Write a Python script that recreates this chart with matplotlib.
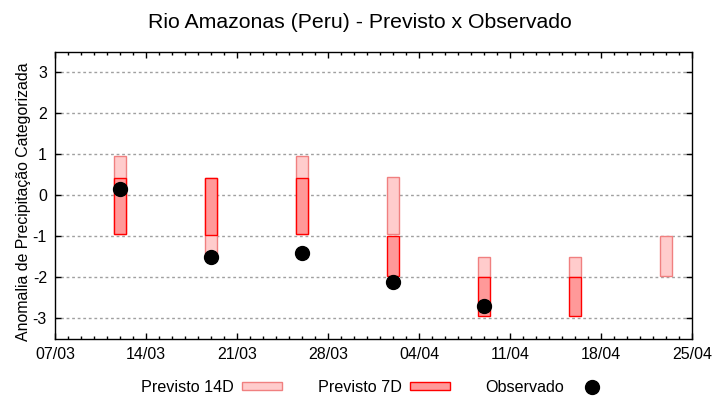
import numpy as np
import pandas as pd
import matplotlib
matplotlib.use('Agg')
import matplotlib.pyplot as plt
import matplotlib.dates as mdates
from matplotlib.patches import Rectangle
from matplotlib.lines import Line2D

plt.rcParams['font.family'] = ['Liberation Sans', 'DejaVu Sans']
plt.rcParams['axes.unicode_minus'] = False

# forecast weeks (center of each box)
datas = pd.to_datetime(['2024-03-12', '2024-03-19', '2024-03-26', '2024-04-02',
                        '2024-04-09', '2024-04-16', '2024-04-23'])
# Previsto 14D: lower / upper limits
p14_min = [-0.95, -1.50, -0.95, -0.95, -2.00, -2.00, -1.96]
p14_max = [0.95, 0.43, 0.95, 0.44, -1.51, -1.51, -1.00]
# Previsto 7D: lower / upper limits (no value for last week)
p7_min = [-0.95, -0.96, -0.95, -1.96, -2.95, -2.95]
p7_max = [0.43, 0.43, 0.43, -1.00, -2.00, -2.00]
# observed anomaly
obs = [0.15, -1.51, -1.41, -2.10, -2.70]

x_ini = pd.Timestamp('2024-03-07')
x_fim = pd.Timestamp('2024-04-25')

cor14_f, cor14_e = '#ffcccc', '#f08080'
cor7_f, cor7_e = '#ff9999', '#ff0000'

fig = plt.figure(figsize=(7.2, 4.0), dpi=100)
ax = fig.add_axes([0.0768, 0.1525, 0.8847, 0.7185])

h14 = np.array(p14_max) - np.array(p14_min)
ax.bar(datas, h14, bottom=p14_min, width=0.95, color=cor14_f, edgecolor=cor14_e,
       linewidth=1, zorder=2)
h7 = np.array(p7_max) - np.array(p7_min)
ax.bar(datas[:len(p7_min)], h7, bottom=p7_min, width=0.95, color=cor7_f,
       edgecolor=cor7_e, linewidth=1, zorder=3)
ax.plot(datas[:len(obs)], obs, 'o', color='black', markersize=10, zorder=4)

ax.set_xlim(x_ini, x_fim)
ax.set_ylim(-3.5, 3.5)
ax.set_yticks(np.arange(-3, 4, 1))
ax.set_xticks(pd.date_range(x_ini, x_fim, freq='7D'))
ax.xaxis.set_major_formatter(mdates.DateFormatter('%d/%m'))
ax.xaxis.set_minor_locator(mdates.DayLocator())
ax.yaxis.grid(True, color='#a0a0a0', linestyle=(0, (2, 2)), linewidth=1)
ax.set_axisbelow(True)
ax.tick_params(which='both', direction='in', top=True, right=True, labelsize=11.5,
               width=1, color='black')
ax.tick_params(which='major', length=4, pad=6)
ax.tick_params(which='minor', length=2.5)
for s in ax.spines.values():
    s.set_linewidth(1)

ax.set_ylabel('Anomalia de Precipitação Categorizada', fontsize=11.4, va='center')
ax.yaxis.set_label_coords(-0.0507, 0.478)
fig.suptitle('Rio Amazonas (Peru) - Previsto x Observado', fontsize=15.3, y=0.968)

handles = [Rectangle((0, 0), 1, 1, facecolor=cor14_f, edgecolor=cor14_e),
           Rectangle((0, 0), 1, 1, facecolor=cor7_f, edgecolor=cor7_e),
           Line2D([], [], marker='o', color='black', linestyle='none', markersize=10)]
fig.legend(handles, ['Previsto 14D', 'Previsto 7D', 'Observado'], ncol=3,
           loc='center', bbox_to_anchor=(0.523, 0.032), frameon=False,
           markerfirst=False, fontsize=11.6, handlelength=2.48, handleheight=0.38,
           handletextpad=0.5, columnspacing=2.2)

fig.savefig('out.png', dpi=100)
